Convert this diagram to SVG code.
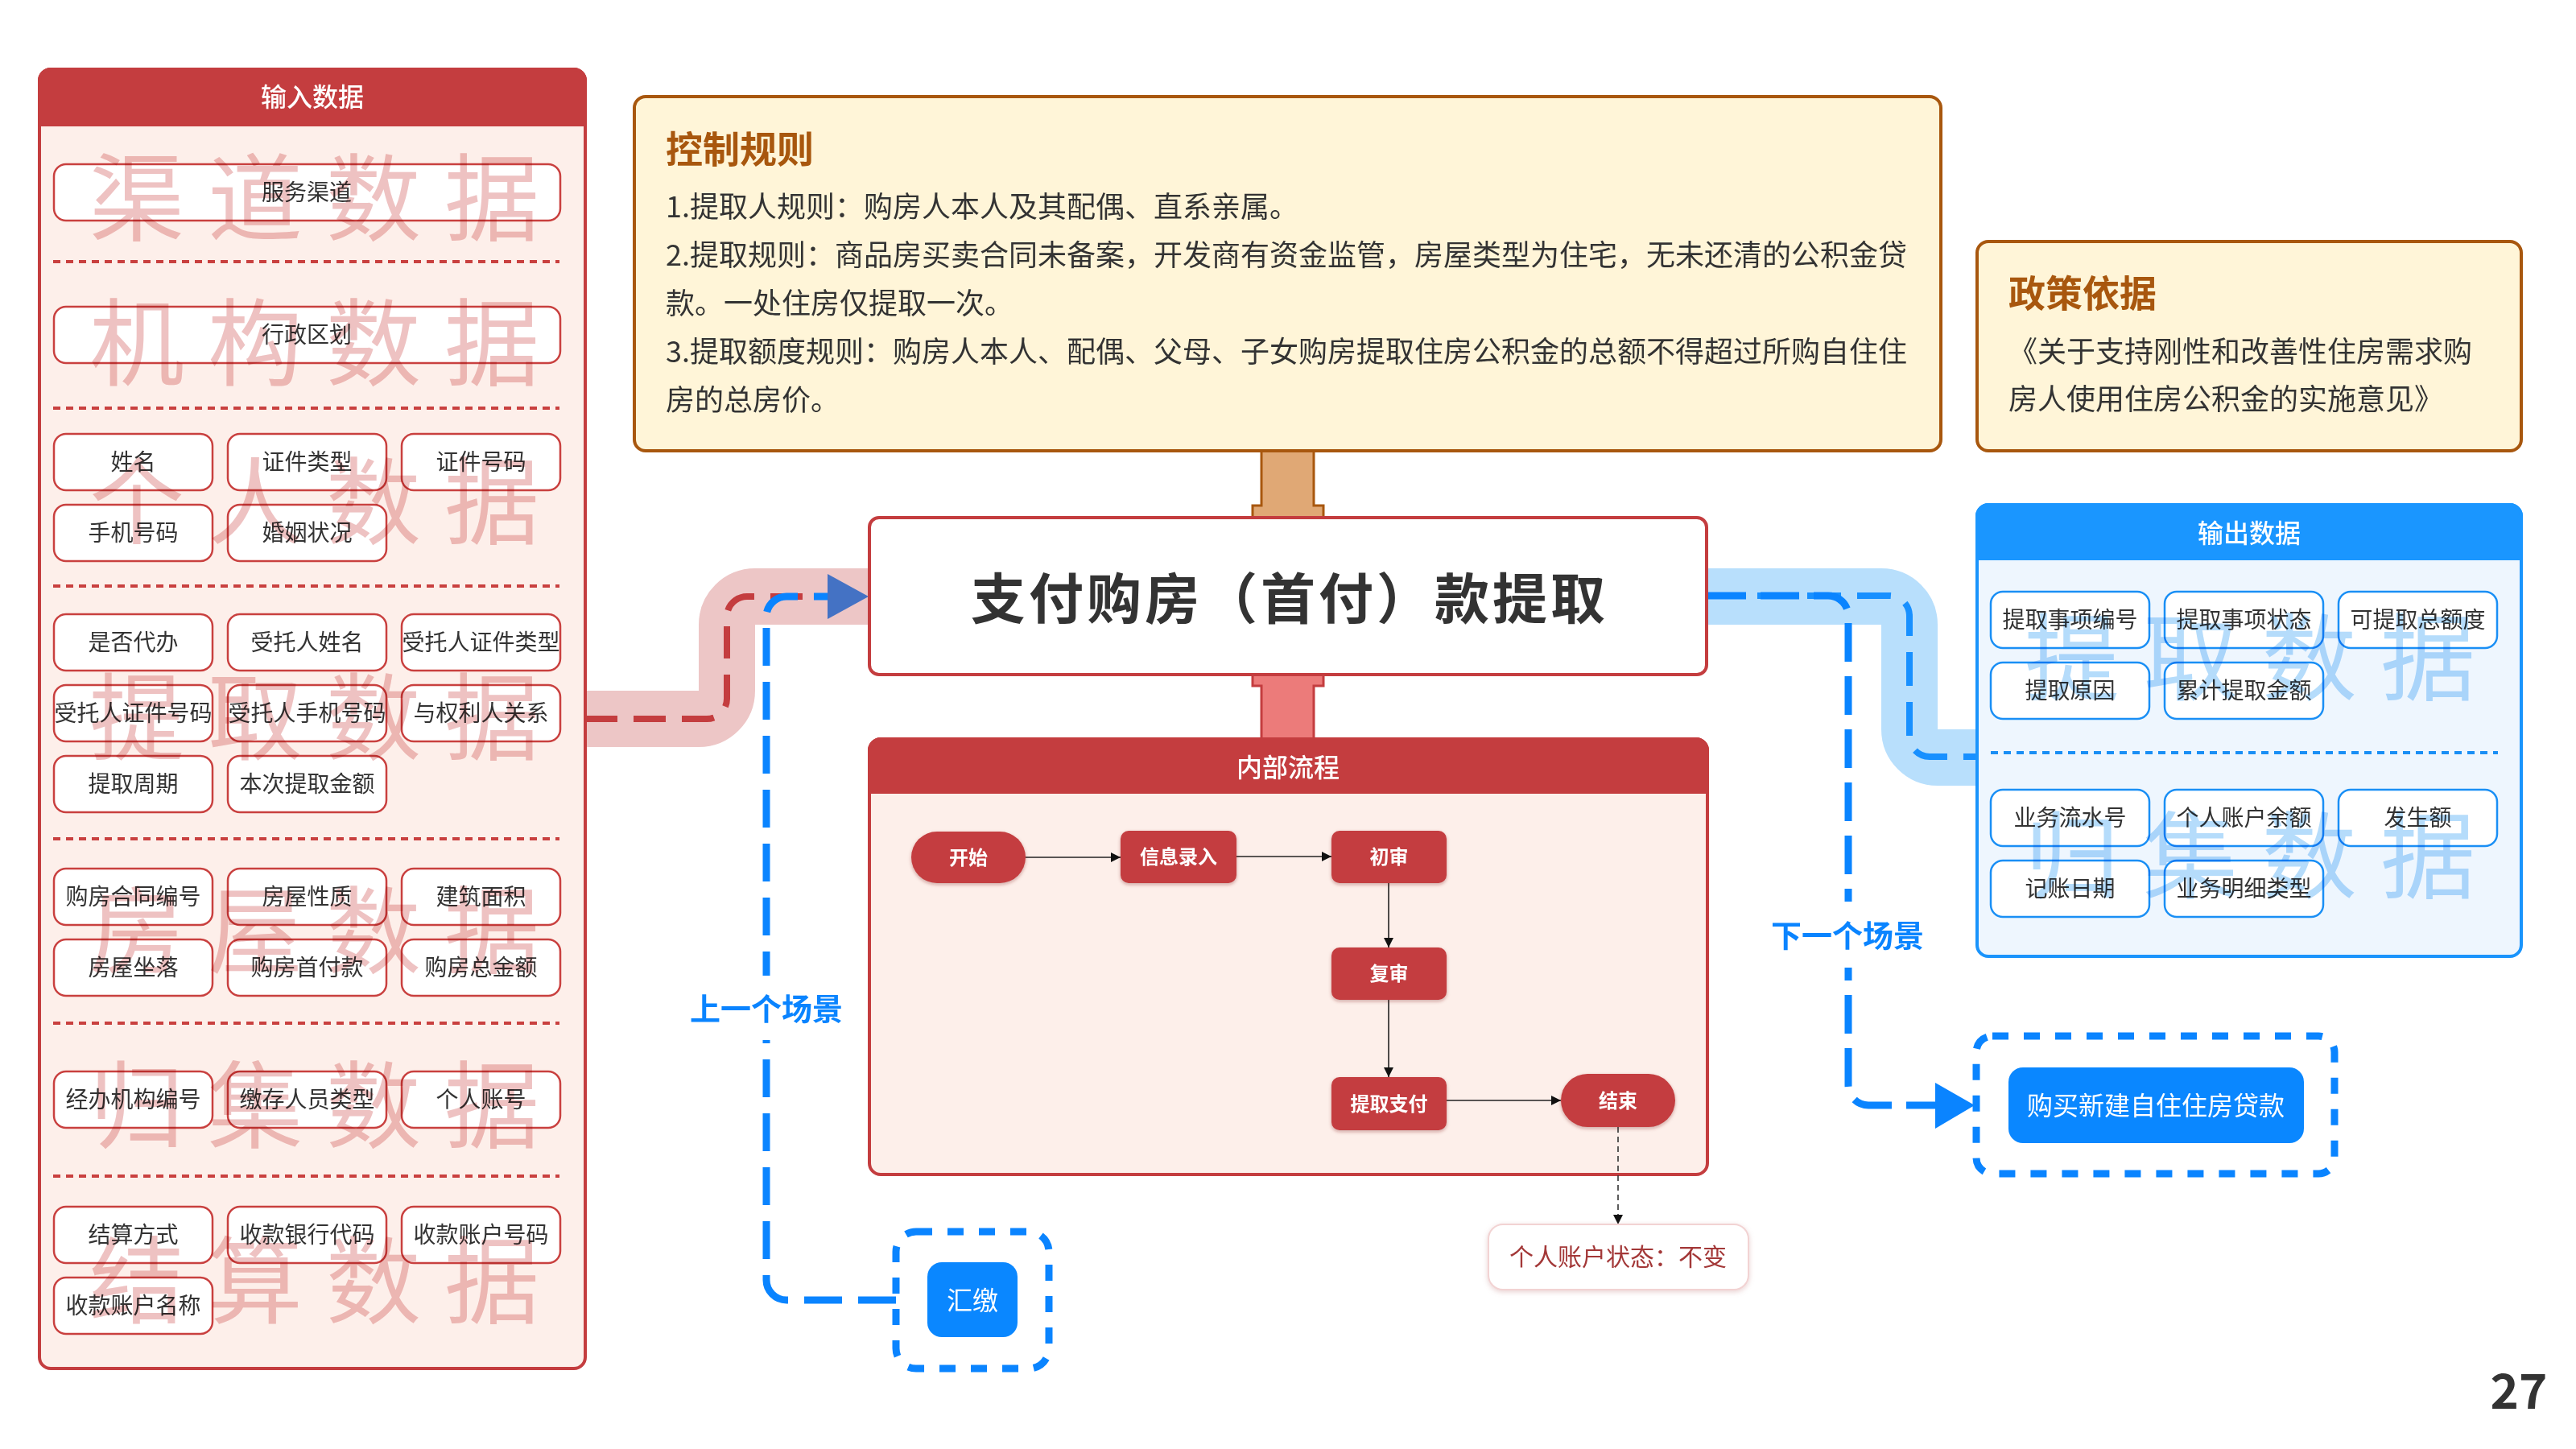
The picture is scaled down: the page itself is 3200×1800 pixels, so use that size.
<svg xmlns="http://www.w3.org/2000/svg" width="3200" height="1800" viewBox="0 0 3200 1800">
<defs>
<style>
text{font-family:"Noto Sans CJK SC","Noto Sans",sans-serif;}
.bx{fill:#fff;stroke:#C9403F;stroke-width:2.5;}
.bxb{fill:#fff;stroke:#1A8FF5;stroke-width:2.5;}
.bt{font-size:28px;fill:#333;text-anchor:middle;}
.dotr{stroke:#C9403F;stroke-width:4;stroke-dasharray:9 7;fill:none;}
.dotb{stroke:#1A8FF5;stroke-width:4;stroke-dasharray:9 7;fill:none;}
.wmr{font-size:118px;fill:#EEC2C2;mix-blend-mode:multiply;}
.wmb{font-size:118px;fill:#B5DCFB;mix-blend-mode:multiply;}
.hd{font-size:32px;fill:#fff;text-anchor:middle;font-weight:500;}
.ctl{font-size:36px;fill:#333;}
.fn{fill:#C43D3F;filter:url(#sh);}
.ft{font-size:24px;fill:#fff;font-weight:700;text-anchor:middle;}
.fl{stroke:#222;stroke-width:1.6;fill:none;marker-end:url(#ah);}
.scn{font-size:38px;font-weight:700;fill:#0A84FF;text-anchor:middle;}
.dbx{fill:none;stroke:#0A84FF;stroke-width:9;stroke-dasharray:20 19;}
</style>
<marker id="ah" viewBox="0 0 10 10" refX="10" refY="5" markerWidth="12" markerHeight="12" markerUnits="userSpaceOnUse" orient="auto"><path d="M0,0 L10,5 L0,10 z" fill="#111"/></marker>
<filter id="sh" x="-10%" y="-10%" width="120%" height="130%"><feDropShadow dx="0" dy="2" stdDeviation="2" flood-color="#7a1f1f" flood-opacity="0.35"/></filter>
<filter id="sh2" x="-10%" y="-10%" width="120%" height="130%"><feDropShadow dx="0" dy="2" stdDeviation="3" flood-color="#c08080" flood-opacity="0.35"/></filter>
</defs>
<rect width="3200" height="1800" fill="#fff"/>

<!-- connectors -->
<g id="connectors">
<path d="M727,893 H868 A35,35 0 0 0 903,858 V776 A35,35 0 0 1 938,741 H1080" fill="none" stroke="#EDC6C6" stroke-width="70"/>
<path d="M2121,741 H2337 A35,35 0 0 1 2372,776 V906 A35,35 0 0 0 2407,941 H2456" fill="none" stroke="#B8DFFC" stroke-width="70"/>
<path d="M727,893 H878 A25,25 0 0 0 903,868 V766 A25,25 0 0 1 928,741 H1030" fill="none" stroke="#C43D3F" stroke-width="8" stroke-dasharray="40 20"/>
<path d="M1113,1615 H977 A25,25 0 0 1 952,1590 V766 A25,25 0 0 1 977,741 H1030" fill="none" stroke="#0A84FF" stroke-width="9" stroke-dasharray="47 20"/>
<polygon points="1028,713 1079,741 1028,769" fill="#4472C4"/>
<path d="M2121,740 H2347 A25,25 0 0 1 2372,765 V915 A25,25 0 0 0 2397,940 H2456" fill="none" stroke="#1890FF" stroke-width="8" stroke-dasharray="42 20"/>
<path d="M2121,740 H2271 A25,25 0 0 1 2296,765 V1348 A25,25 0 0 0 2321,1373 H2406" fill="none" stroke="#0A84FF" stroke-width="9" stroke-dasharray="48 18"/>
<polygon points="2404,1345 2453,1373 2404,1402" fill="#0A84FF"/>
<path d="M1567,560 V628 H1556 V643 H1644 V628 H1632 V560" fill="#E0A875" stroke="#A8570E" stroke-width="3"/>
<path d="M1556,838 V852 H1567 V918 H1632 V852 H1644 V838 Z" fill="#EC7B7A" stroke="#C43D3F" stroke-width="3"/>
<rect x="846" y="1212" width="212" height="80" fill="#fff"/>
<text class="scn" x="952" y="1267">上一个场景</text>
<rect x="2192" y="1120" width="208" height="82" fill="#fff"/>
<text class="scn" x="2295" y="1176">下一个场景</text>
</g>

<!-- input panel -->
<g id="input-panel">
<rect x="49" y="86" width="678" height="1614" rx="14" fill="#FDEFEA" stroke="#C43D3F" stroke-width="4"/>
<path d="M49,100 A14,14 0 0 1 63,86 H713 A14,14 0 0 1 727,100 V155 H49 Z" fill="#C43D3F" stroke="#C43D3F" stroke-width="4"/>
<text class="hd" x="388" y="132">输入数据</text>
<g id="in-sep">
<line class="dotr" x1="66" y1="325" x2="695" y2="325"/>
<line class="dotr" x1="66" y1="507" x2="695" y2="507"/>
<line class="dotr" x1="66" y1="728" x2="695" y2="728"/>
<line class="dotr" x1="66" y1="1042" x2="695" y2="1042"/>
<line class="dotr" x1="66" y1="1271" x2="695" y2="1271"/>
<line class="dotr" x1="66" y1="1461" x2="695" y2="1461"/>
</g>
<g id="in-1"><rect class="bx" x="67" y="204" width="629" height="70" rx="15"/><text class="bt" x="381" y="249">服务渠道</text></g>
<g id="in-2"><rect class="bx" x="67" y="381" width="629" height="70" rx="15"/><text class="bt" x="381" y="426">行政区划</text></g>
<g id="in-3"><rect class="bx" x="67" y="539" width="197" height="70" rx="15"/><text class="bt" x="165.5" y="584">姓名</text></g>
<g id="in-4"><rect class="bx" x="283" y="539" width="197" height="70" rx="15"/><text class="bt" x="381.5" y="584">证件类型</text></g>
<g id="in-5"><rect class="bx" x="499" y="539" width="197" height="70" rx="15"/><text class="bt" x="597.5" y="584">证件号码</text></g>
<g id="in-6"><rect class="bx" x="67" y="627" width="197" height="70" rx="15"/><text class="bt" x="165.5" y="672">手机号码</text></g>
<g id="in-7"><rect class="bx" x="283" y="627" width="197" height="70" rx="15"/><text class="bt" x="381.5" y="672">婚姻状况</text></g>
<g id="in-8"><rect class="bx" x="67" y="763" width="197" height="70" rx="15"/><text class="bt" x="165.5" y="808">是否代办</text></g>
<g id="in-9"><rect class="bx" x="283" y="763" width="197" height="70" rx="15"/><text class="bt" x="381.5" y="808">受托人姓名</text></g>
<g id="in-10"><rect class="bx" x="499" y="763" width="197" height="70" rx="15"/><text class="bt" x="597.5" y="808">受托人证件类型</text></g>
<g id="in-11"><rect class="bx" x="67" y="851" width="197" height="70" rx="15"/><text class="bt" x="165.5" y="896">受托人证件号码</text></g>
<g id="in-12"><rect class="bx" x="283" y="851" width="197" height="70" rx="15"/><text class="bt" x="381.5" y="896">受托人手机号码</text></g>
<g id="in-13"><rect class="bx" x="499" y="851" width="197" height="70" rx="15"/><text class="bt" x="597.5" y="896">与权利人关系</text></g>
<g id="in-14"><rect class="bx" x="67" y="939" width="197" height="70" rx="15"/><text class="bt" x="165.5" y="984">提取周期</text></g>
<g id="in-15"><rect class="bx" x="283" y="939" width="197" height="70" rx="15"/><text class="bt" x="381.5" y="984">本次提取金额</text></g>
<g id="in-16"><rect class="bx" x="67" y="1079" width="197" height="70" rx="15"/><text class="bt" x="165.5" y="1124">购房合同编号</text></g>
<g id="in-17"><rect class="bx" x="283" y="1079" width="197" height="70" rx="15"/><text class="bt" x="381.5" y="1124">房屋性质</text></g>
<g id="in-18"><rect class="bx" x="499" y="1079" width="197" height="70" rx="15"/><text class="bt" x="597.5" y="1124">建筑面积</text></g>
<g id="in-19"><rect class="bx" x="67" y="1167" width="197" height="70" rx="15"/><text class="bt" x="165.5" y="1212">房屋坐落</text></g>
<g id="in-20"><rect class="bx" x="283" y="1167" width="197" height="70" rx="15"/><text class="bt" x="381.5" y="1212">购房首付款</text></g>
<g id="in-21"><rect class="bx" x="499" y="1167" width="197" height="70" rx="15"/><text class="bt" x="597.5" y="1212">购房总金额</text></g>
<g id="in-22"><rect class="bx" x="67" y="1331" width="197" height="70" rx="15"/><text class="bt" x="165.5" y="1376">经办机构编号</text></g>
<g id="in-23"><rect class="bx" x="283" y="1331" width="197" height="70" rx="15"/><text class="bt" x="381.5" y="1376">缴存人员类型</text></g>
<g id="in-24"><rect class="bx" x="499" y="1331" width="197" height="70" rx="15"/><text class="bt" x="597.5" y="1376">个人账号</text></g>
<g id="in-25"><rect class="bx" x="67" y="1499" width="197" height="70" rx="15"/><text class="bt" x="165.5" y="1544">结算方式</text></g>
<g id="in-26"><rect class="bx" x="283" y="1499" width="197" height="70" rx="15"/><text class="bt" x="381.5" y="1544">收款银行代码</text></g>
<g id="in-27"><rect class="bx" x="499" y="1499" width="197" height="70" rx="15"/><text class="bt" x="597.5" y="1544">收款账户号码</text></g>
<g id="in-28"><rect class="bx" x="67" y="1587" width="197" height="70" rx="15"/><text class="bt" x="165.5" y="1632">收款账户名称</text></g>
<g id="in-watermarks">
<text class="wmr" x="111" y="290" textLength="559" lengthAdjust="spacing">渠道数据</text>
<text class="wmr" x="111" y="470" textLength="559" lengthAdjust="spacing">机构数据</text>
<text class="wmr" x="111" y="667" textLength="559" lengthAdjust="spacing">个人数据</text>
<text class="wmr" x="111" y="935" textLength="559" lengthAdjust="spacing">提取数据</text>
<text class="wmr" x="111" y="1200" textLength="559" lengthAdjust="spacing">房屋数据</text>
<text class="wmr" x="111" y="1417" textLength="559" lengthAdjust="spacing">归集数据</text>
<text class="wmr" x="111" y="1635" textLength="559" lengthAdjust="spacing">结算数据</text>
</g>
</g>

<!-- control rules -->
<g id="control-rules">
<rect x="788" y="120" width="1623" height="440" rx="14" fill="#FFF5D8" stroke="#A8570E" stroke-width="4"/>
<text x="827" y="202" font-size="46" font-weight="700" fill="#A8570E">控制规则</text>
<text class="ctl" x="827" y="270">1.提取人规则：购房人本人及其配偶、直系亲属。</text>
<text class="ctl" x="827" y="330">2.提取规则：商品房买卖合同未备案，开发商有资金监管，房屋类型为住宅，无未还清的公积金贷</text>
<text class="ctl" x="827" y="390">款。一处住房仅提取一次。</text>
<text class="ctl" x="827" y="450">3.提取额度规则：购房人本人、配偶、父母、子女购房提取住房公积金的总额不得超过所购自住住</text>
<text class="ctl" x="827" y="510">房的总房价。</text>
</g>

<!-- policy -->
<g id="policy">
<rect x="2456" y="300" width="676" height="260" rx="14" fill="#FFF5D8" stroke="#A8570E" stroke-width="4"/>
<text x="2495" y="381" font-size="46" font-weight="700" fill="#A8570E">政策依据</text>
<text class="ctl" x="2495" y="450">《关于支持刚性和改善性住房需求购</text>
<text class="ctl" x="2495" y="509">房人使用住房公积金的实施意见》</text>
</g>

<!-- main node -->
<g id="main-node">
<rect x="1080" y="643" width="1040" height="195" rx="12" fill="#fff" stroke="#C43D3F" stroke-width="4"/>
<text x="1602" y="769" font-size="68" font-weight="700" fill="#333" text-anchor="middle" letter-spacing="4">支付购房（首付）款提取</text>
</g>

<!-- internal process -->
<g id="internal-process">
<rect x="1080" y="918" width="1041" height="541" rx="14" fill="#FDEFEA" stroke="#C43D3F" stroke-width="4"/>
<path d="M1080,932 A14,14 0 0 1 1094,918 H2107 A14,14 0 0 1 2121,932 V984 H1080 Z" fill="#C43D3F" stroke="#C43D3F" stroke-width="4"/>
<text class="hd" x="1600" y="965">内部流程</text>
<g id="flow-edges">
<line class="fl" x1="1274" y1="1065" x2="1392" y2="1065"/>
<line class="fl" x1="1536" y1="1064" x2="1654" y2="1064"/>
<line class="fl" x1="1725" y1="1097" x2="1725" y2="1177"/>
<line class="fl" x1="1725" y1="1242" x2="1725" y2="1338"/>
<line class="fl" x1="1797" y1="1367" x2="1939" y2="1367"/>
</g>
<g id="f-start"><rect class="fn" x="1132" y="1033" width="142" height="64" rx="32"/><text class="ft" x="1203" y="1074">开始</text></g>
<g id="f-input"><rect class="fn" x="1392" y="1032" width="144" height="65" rx="10"/><text class="ft" x="1464" y="1073">信息录入</text></g>
<g id="f-first"><rect class="fn" x="1654" y="1032" width="143" height="65" rx="10"/><text class="ft" x="1725.5" y="1073">初审</text></g>
<g id="f-second"><rect class="fn" x="1654" y="1177" width="143" height="65" rx="10"/><text class="ft" x="1725.5" y="1218">复审</text></g>
<g id="f-pay"><rect class="fn" x="1654" y="1338" width="143" height="66" rx="10"/><text class="ft" x="1725.5" y="1380">提取支付</text></g>
<g id="f-end"><rect class="fn" x="1939" y="1334" width="142" height="66" rx="33"/><text class="ft" x="2010" y="1376">结束</text></g>
</g>
<g id="status-link">
<line x1="2010" y1="1400" x2="2010" y2="1521" stroke="#333" stroke-width="1.6" stroke-dasharray="7 5" marker-end="url(#ah)"/>
</g>
<g id="status-box">
<rect x="1849" y="1521" width="323" height="81" rx="18" fill="#fff" stroke="#F2D3D3" stroke-width="2" filter="url(#sh2)"/>
<text x="2010" y="1572" font-size="30" fill="#A33838" text-anchor="middle">个人账户状态：不变</text>
</g>

<!-- output panel -->
<g id="output-panel">
<rect x="2456" y="627" width="676" height="561" rx="14" fill="#EEF6FE" stroke="#1A94FC" stroke-width="4"/>
<path d="M2456,641 A14,14 0 0 1 2470,627 H3118 A14,14 0 0 1 3132,641 V694 H2456 Z" fill="#1A96FF" stroke="#1A96FF" stroke-width="4"/>
<text class="hd" x="2794" y="674">输出数据</text>
<line class="dotb" x1="2473" y1="935" x2="3103" y2="935"/>
<g id="out-1"><rect class="bxb" x="2473" y="735" width="197" height="70" rx="15"/><text class="bt" x="2571.5" y="780">提取事项编号</text></g>
<g id="out-2"><rect class="bxb" x="2689" y="735" width="197" height="70" rx="15"/><text class="bt" x="2787.5" y="780">提取事项状态</text></g>
<g id="out-3"><rect class="bxb" x="2905" y="735" width="197" height="70" rx="15"/><text class="bt" x="3003.5" y="780">可提取总额度</text></g>
<g id="out-4"><rect class="bxb" x="2473" y="823" width="197" height="70" rx="15"/><text class="bt" x="2571.5" y="868">提取原因</text></g>
<g id="out-5"><rect class="bxb" x="2689" y="823" width="197" height="70" rx="15"/><text class="bt" x="2787.5" y="868">累计提取金额</text></g>
<g id="out-6"><rect class="bxb" x="2473" y="981" width="197" height="70" rx="15"/><text class="bt" x="2571.5" y="1026">业务流水号</text></g>
<g id="out-7"><rect class="bxb" x="2689" y="981" width="197" height="70" rx="15"/><text class="bt" x="2787.5" y="1026">个人账户余额</text></g>
<g id="out-8"><rect class="bxb" x="2905" y="981" width="197" height="70" rx="15"/><text class="bt" x="3003.5" y="1026">发生额</text></g>
<g id="out-9"><rect class="bxb" x="2473" y="1069" width="197" height="70" rx="15"/><text class="bt" x="2571.5" y="1114">记账日期</text></g>
<g id="out-10"><rect class="bxb" x="2689" y="1069" width="197" height="70" rx="15"/><text class="bt" x="2787.5" y="1114">业务明细类型</text></g>
<g id="out-watermarks">
<text class="wmb" x="2515" y="861" textLength="560" lengthAdjust="spacing">提取数据</text>
<text class="wmb" x="2515" y="1107" textLength="560" lengthAdjust="spacing">归集数据</text>
</g>
</g>

<!-- previous scene -->
<g id="prev-scene">
<rect class="dbx" x="1113" y="1530" width="190" height="170" rx="25"/>
<rect x="1152" y="1568" width="112" height="93" rx="18" fill="#0A87FF"/>
<text x="1208" y="1627" font-size="32" fill="#fff" text-anchor="middle">汇缴</text>
</g>

<!-- next scene -->
<g id="next-scene">
<rect class="dbx" x="2455" y="1287" width="445" height="171" rx="20"/>
<rect x="2495" y="1326" width="367" height="94" rx="18" fill="#0A87FF"/>
<text x="2678" y="1385" font-size="32" fill="#fff" text-anchor="middle">购买新建自住住房贷款</text>
</g>

<g id="page-number">
<text x="3129" y="1750" font-family="Noto Sans, sans-serif" font-size="60" font-weight="700" fill="#333" text-anchor="middle">27</text>
</g>
</svg>
